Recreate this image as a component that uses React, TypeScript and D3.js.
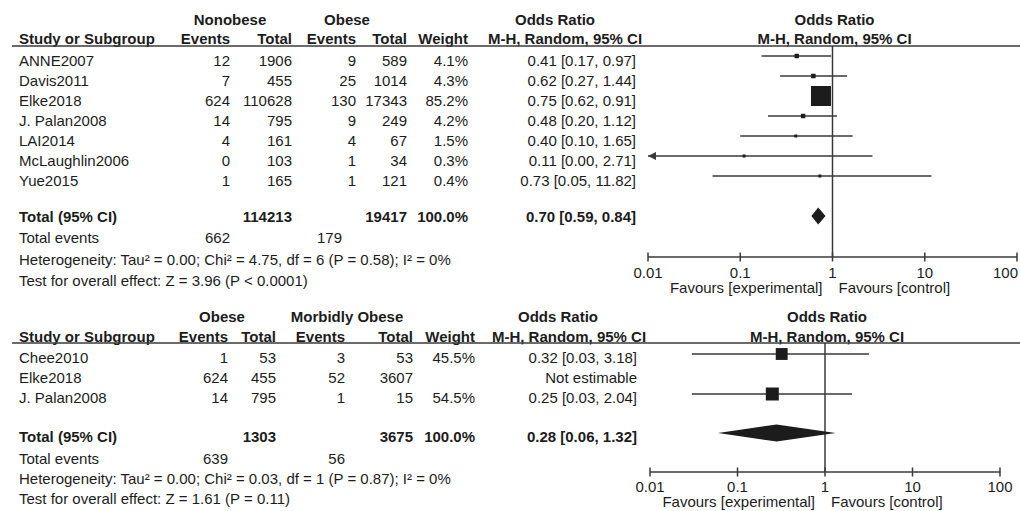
import React from 'react';
import * as d3 from 'd3';

// ---- data: panel 1 (Nonobese vs Obese)
const studiesA = ['ANNE2007', 'Davis2011', 'Elke2018', 'J. Palan2008', 'LAI2014', 'McLaughlin2006', 'Yue2015'];
const eventsA1 = [12, 7, 624, 14, 4, 0, 1];
const totalA1 = [1906, 455, 110628, 795, 161, 103, 165];
const eventsA2 = [9, 25, 130, 9, 4, 1, 1];
const totalA2 = [589, 1014, 17343, 249, 67, 34, 121];
const weightA = [4.1, 4.3, 85.2, 4.2, 1.5, 0.3, 0.4];
const orA = [0.41, 0.62, 0.75, 0.48, 0.40, 0.11, 0.73];
const loA = [0.17, 0.27, 0.62, 0.20, 0.10, 0.00, 0.05];
const hiA = [0.97, 1.44, 0.91, 1.12, 1.65, 2.71, 11.82];
const summaryA = { n1: 114213, n2: 19417, or: 0.70, lo: 0.59, hi: 0.84, ev1: 662, ev2: 179 };
const hetA = 'Heterogeneity: Tau² = 0.00; Chi² = 4.75, df = 6 (P = 0.58); I² = 0%';
const testA = 'Test for overall effect: Z = 3.96 (P < 0.0001)';

// ---- data: panel 2 (Obese vs Morbidly Obese)
const studiesB = ['Chee2010', 'Elke2018', 'J. Palan2008'];
const eventsB1 = [1, 624, 14];
const totalB1 = [53, 455, 795];
const eventsB2 = [3, 52, 1];
const totalB2 = [53, 3607, 15];
const weightB: (number | null)[] = [45.5, null, 54.5];
const orB: (number | null)[] = [0.32, null, 0.25];
const loB: (number | null)[] = [0.03, null, 0.03];
const hiB: (number | null)[] = [3.18, null, 2.04];
const summaryB = { n1: 1303, n2: 3675, or: 0.28, lo: 0.06, hi: 1.32, ev1: 639, ev2: 56 };
const hetB = 'Heterogeneity: Tau² = 0.00; Chi² = 0.03, df = 1 (P = 0.87); I² = 0%';
const testB = 'Test for overall effect: Z = 1.61 (P = 0.11)';

const ticks = [0.01, 0.1, 1, 10, 100];
const tickLabels = ['0.01', '0.1', '1', '10', '100'];

const FONT = '"Liberation Sans", Arial, sans-serif';
const INK = '#1c1c1c';
const LINE = '#3a3a3a';

const fmtCI = (o: number, l: number, h: number) => `${o.toFixed(2)} [${l.toFixed(2)}, ${h.toFixed(2)}]`;

const Panel = ({ L, group1, group2, studies, ev1, n1, ev2, n2, weight, or, lo, hi, summary, het, test }: any) => {
  const x = d3.scaleLog().domain([0.01, 100]).range([L.plotX0, L.plotX1]);
  const side = d3.scaleSqrt().domain([0, L.sqMaxW]).range([0, L.sqMax]);
  const rowY = (i: number) => L.rowY0 + i * L.rowStep;
  const b = (y: number) => y + 5.3; // centre -> baseline
  const vx = x(1);

  const txt = (s: any, xx: number, y: number, anchor = 'end', bold = false, key?: any) => (
    <text key={key} x={xx} y={b(y)} textAnchor={anchor} fontWeight={bold ? 'bold' : 'normal'}>{s}</text>
  );

  const dy = L.summaryY + L.diamondOff;
  const diamond = [
    [x(summary.lo), dy], [x(summary.or), dy - 8.5], [x(summary.hi), dy], [x(summary.or), dy + 8.5]
  ];

  return (
    <g fontFamily={FONT} fontSize={15} fill={INK}>
      {/* headers */}
      <g fontWeight="bold">
        {txt(group1, L.g1, L.groupY, 'middle', true)}
        {txt(group2, L.g2, L.groupY, 'middle', true)}
        {txt('Odds Ratio', L.orTitle, L.groupY, 'middle', true)}
        {txt('Odds Ratio', vx + 2, L.groupY, 'middle', true)}
        {txt('Study or Subgroup', L.xStudy, L.headY, 'start', true)}
        {txt('Events', L.xEv1, L.headY, 'end', true)}
        {txt('Total', L.xN1, L.headY, 'end', true)}
        {txt('Events', L.xEv2, L.headY, 'end', true)}
        {txt('Total', L.xN2, L.headY, 'end', true)}
        {txt('Weight', L.xW, L.headY, 'end', true)}
        {txt('M-H, Random, 95% CI', L.orHead, L.headY, 'middle', true)}
        {txt('M-H, Random, 95% CI', vx + 2, L.headY, 'middle', true)}
      </g>
      <line x1={L.ruleX0} x2={1020} y1={L.ruleY} y2={L.ruleY} stroke={LINE} strokeWidth={1.6} />

      {/* study rows */}
      {studies.map((s: string, i: number) => (
        <g key={s + i}>
          {txt(s, L.xStudy, rowY(i), 'start')}
          {txt(ev1[i], L.xEv1, rowY(i))}
          {txt(n1[i], L.xN1, rowY(i))}
          {txt(ev2[i], L.xEv2, rowY(i))}
          {txt(n2[i], L.xN2, rowY(i))}
          {weight[i] != null && txt(`${weight[i].toFixed(1)}%`, L.xW, rowY(i))}
          {or[i] != null ? txt(fmtCI(or[i], lo[i], hi[i]), L.xOR, rowY(i)) : txt('Not estimable', L.xOR, rowY(i))}
        </g>
      ))}

      {/* totals */}
      {txt('Total (95% CI)', L.xStudy, L.totalY, 'start', true)}
      {txt(summary.n1, L.xN1, L.totalY, 'end', true)}
      {txt(summary.n2, L.xN2, L.totalY, 'end', true)}
      {txt('100.0%', L.xW, L.totalY, 'end', true)}
      {txt(fmtCI(summary.or, summary.lo, summary.hi), L.xOR, L.totalY, 'end', true)}
      {txt('Total events', L.xStudy, L.eventsY, 'start')}
      {txt(summary.ev1, L.xEv1, L.eventsY)}
      {txt(summary.ev2, L.xEvT2, L.eventsY)}
      {txt(het, L.xStudy, L.hetY, 'start')}
      {txt(test, L.xStudy, L.testY, 'start')}

      {/* forest plot */}
      <line x1={vx} x2={vx} y1={L.ruleY} y2={L.axisY} stroke={LINE} strokeWidth={1.5} />
      {studies.map((s: string, i: number) => {
        if (or[i] == null) return null;
        const y = rowY(i) + L.markOff;
        const clipped = lo[i] <= 0.01;
        const x0 = clipped ? L.plotX0 : x(lo[i]);
        const x1 = hi[i] >= 100 ? L.plotX1 : x(hi[i]);
        const sz = Math.max(3, side(weight[i]));
        return (
          <g key={'m' + i}>
            <line x1={x0} x2={x1} y1={y} y2={y} stroke={LINE} strokeWidth={1.3} />
            {clipped && <path d={`M${x0},${y} l8,-4 l0,8 z`} fill={LINE} />}
            <rect x={x(or[i]) - sz / 2} y={y - sz / 2} width={sz} height={sz} fill={INK} />
          </g>
        );
      })}
      <polygon points={diamond.map(p => p.join(',')).join(' ')} fill={INK} />

      {/* axis */}
      <line x1={L.plotX0} x2={L.plotX1} y1={L.axisY} y2={L.axisY} stroke={LINE} strokeWidth={1.5} />
      {ticks.map((t, i) => {
        // keep the last label inside the page, as the original does
        const tx = x(t);
        const nearEdge = tx > 1005;
        return (
          <g key={'t' + t}>
            <line x1={tx} x2={tx} y1={L.axisY - 4.5} y2={L.axisY + 4.5} stroke={LINE} strokeWidth={1.5} />
            {txt(tickLabels[i], nearEdge ? 1018 : tx, L.tickY, nearEdge ? 'end' : 'middle')}
          </g>
        );
      })}
      {txt('Favours [experimental]', vx - 10, L.favY, 'end')}
      {txt('Favours [control]', vx + 6, L.favY, 'start')}
    </g>
  );
};

const layoutA = {
  groupY: 20, headY: 39, ruleY: 46, rowY0: 61, rowStep: 20, totalY: 217, summaryY: 217, eventsY: 238, hetY: 260, testY: 281,
  xStudy: 19, xEv1: 230, xN1: 292, xEv2: 356, xEvT2: 342, xN2: 407, xW: 468, xOR: 636,
  g1: 230, g2: 347, orTitle: 555, orHead: 565, ruleX0: 12,
  plotX0: 648, plotX1: 1017, axisY: 257, tickY: 273, favY: 288,
  markOff: -5, diamondOff: -1, sqMax: 20, sqMaxW: 85.2,
};

const layoutB = {
  groupY: 317, headY: 337, ruleY: 343, rowY0: 358, rowStep: 20, totalY: 437, summaryY: 437, eventsY: 459, hetY: 479, testY: 499,
  xStudy: 19, xEv1: 228, xN1: 276, xEv2: 345, xEvT2: 345, xN2: 413, xW: 475, xOR: 637,
  g1: 222, g2: 347, orTitle: 558, orHead: 569, ruleX0: 12,
  plotX0: 650, plotX1: 1000, axisY: 472, tickY: 487, favY: 502,
  markOff: -4, diamondOff: -4, sqMax: 13, sqMaxW: 54.5,
};

export default function App() {
  return (
    <div style={{ position: 'fixed', left: 0, top: 0, background: '#fff' }}>
      <svg width={1020} height={511} style={{ display: 'block' }}>
        <rect width={1020} height={511} fill="#fff" />
        <Panel L={layoutA} group1="Nonobese" group2="Obese" studies={studiesA}
          ev1={eventsA1} n1={totalA1} ev2={eventsA2} n2={totalA2} weight={weightA}
          or={orA} lo={loA} hi={hiA} summary={summaryA} het={hetA} test={testA} />
        <Panel L={layoutB} group1="Obese" group2="Morbidly Obese" studies={studiesB}
          ev1={eventsB1} n1={totalB1} ev2={eventsB2} n2={totalB2} weight={weightB}
          or={orB} lo={loB} hi={hiB} summary={summaryB} het={hetB} test={testB} />
      </svg>
    </div>
  );
}
